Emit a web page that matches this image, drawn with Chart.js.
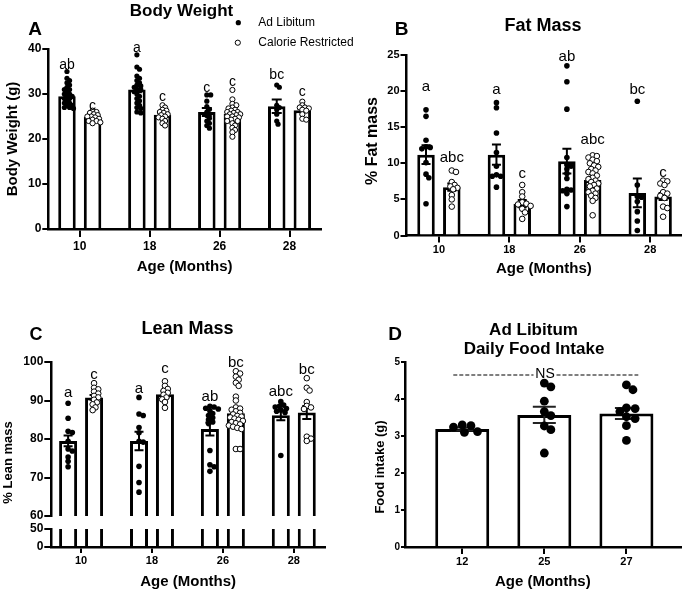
<!DOCTYPE html>
<html lang="en">
<head>
<meta charset="UTF-8">
<title>Body weight, fat, lean mass and food intake</title>
<script src="https://cdn.jsdelivr.net/npm/chart.js"></script>
<style>
  body { margin: 0; background: #fff; overflow: hidden; }
  #wrap { position: relative; width: 685px; height: 593px; }
  canvas { position: absolute; }
</style>
</head>
<body>
<div id="wrap">
  <canvas id="chartA" width="370" height="290" style="left:0;top:0"></canvas>
  <canvas id="chartB" width="345" height="290" style="left:340px;top:0"></canvas>
  <canvas id="chartC" width="340" height="303" style="left:0;top:290px"></canvas>
  <canvas id="chartC0" width="340" height="303" style="left:0;top:290px"></canvas>
  <canvas id="chartD" width="345" height="303" style="left:340px;top:290px"></canvas>
</div>
<script>
Chart.defaults.font.family = '"Liberation Sans", Arial, Helvetica, sans-serif';
Chart.defaults.color = '#000';

// ---------- data ----------
const ages = ['10', '18', '26', '28'];
const agesFood = ['12', '25', '27'];

// A: body weight (g)
const bwAdLib = [
  [35, 33.5, 33, 32.5, 32, 31.5, 31, 31, 30.5, 30, 30, 29.5, 29.5, 29, 29, 28.5, 28, 28, 27.5, 27.5, 27, 27, 26.8],
  [38.7, 36, 35.5, 34, 33.5, 33, 32.5, 32, 31.8, 31.5, 31, 31, 30.5, 30, 29.5, 29, 28.5, 28, 27.5, 27, 26.8, 26, 25.8],
  [29.8, 29.8, 28.4, 27.2, 26.6, 26.0, 25.2, 24.6, 24.0, 23.5, 23.0, 22.4],
  [32, 31.5, 27.5, 27, 26.5, 25.5, 24, 23.3]
];
const bwCalRes = [
  [26.3, 26, 25.8, 25.5, 25.3, 25, 25, 24.8, 24.5, 24.3, 24, 24, 23.7, 23.5],
  [27.5, 27, 26.5, 26.3, 26, 25.8, 25.5, 25.3, 25, 24.8, 24.5, 24, 23.5, 23],
  [30.9, 28.8, 27.8, 27.5, 27, 26.8, 26.5, 26.3, 26, 26, 25.8, 25.5, 25.5, 25.3, 25, 25, 24.8, 24.5, 24.3, 24, 24, 23.5, 23, 22.5, 22, 21.5, 20.5],
  [28.3, 27.5, 27, 27, 26.8, 26.5, 26.3, 25.5, 24.5, 24.3]
];
const bwAdLibMean = [29.5, 31.0, 26.0, 27.3];
const bwAdLibSem = [0.5, 0.6, 0.9, 1.5];
const bwCalResMean = [24.9, 25.4, 25.6, 26.4];
const bwCalResSem = [0.2, 0.3, 0.45, 0.4];
const bwAdLibLetters = ['ab', 'a', 'c', 'bc'];
const bwAdLibLetterY = [36.4, 40.2, 31.3, 34.2];
const bwCalResLetters = ['c', 'c', 'c', 'c'];
const bwCalResLetterY = [27.2, 29.3, 32.6, 30.5];

// B: % fat mass
const fatAdLib = [
  [17.4, 16.5, 13.2, 12.3, 12.2, 12.0, 10.1, 8.5, 8.0, 4.4],
  [18.4, 17.7, 14.2, 11.5, 9.6, 8.4, 8.2, 8.2, 6.7],
  [23.5, 21.3, 17.5, 10.8, 9.8, 9.6, 9.2, 8.6, 7.9, 6.4, 6.3, 6.2, 5.8, 4.0],
  [18.6, 7.0, 5.4, 5.3, 4.7, 3.3, 2.0, 0.7]
];
const fatCalRes = [
  [9.0, 8.8, 7.4, 7.0, 6.8, 6.6, 6.4, 5.6, 5.0, 4.0],
  [7.0, 6.0, 5.4, 4.6, 4.4, 4.3, 4.1, 3.7, 3.2, 2.3],
  [11.1, 11.0, 10.8, 10.5, 10.3, 10.0, 9.7, 9.5, 9.2, 9.0, 8.8, 8.6, 8.3, 8.0, 7.8, 7.6, 7.4, 7.2, 7.0, 6.8, 6.5, 6.2, 6.0, 5.8, 5.5, 5.2, 4.8, 2.8],
  [7.6, 7.5, 7.2, 7.0, 6.0, 5.8, 5.5, 5.2, 4.0, 3.8, 2.6]
];
const fatAdLibMean = [11.2, 11.2, 10.3, 5.9];
const fatAdLibSem = [1.3, 1.4, 1.7, 2.0];
const fatCalResMean = [6.7, 4.4, 7.7, 5.4];
const fatCalResSem = [0.5, 0.5, 0.45, 0.5];
const fatAdLibLetters = ['a', 'a', 'ab', 'bc'];
const fatAdLibLetterY = [20.6, 20.2, 24.8, 20.2];
const fatCalResLetters = ['abc', 'c', 'abc', 'c'];
const fatCalResLetterY = [10.8, 8.5, 13.3, 8.7];

// C: % lean mass
const leanAdLib = [
  [89.3, 85.4, 82.0, 81.7, 79.4, 77.4, 76.9, 75.3, 74.2, 72.8],
  [90.8, 86.5, 86.1, 83.0, 81.6, 79.4, 79.2, 72.9, 68.7, 66.2],
  [88.5, 88.3, 88.0, 87.8, 87.3, 86.6, 86.1, 85.5, 85.0, 84.4, 84.0, 77.0, 73.3, 72.8, 71.6],
  [89.7, 88.8, 88.5, 88.3, 87.9, 87.5, 87.2, 86.9, 75.7]
];
const leanCalRes = [
  [94.5, 93.3, 92.9, 92.3, 91.8, 91.2, 90.8, 90.2, 89.5, 89.0, 88.2, 87.5],
  [95.0, 93.8, 93.0, 92.5, 92.0, 91.5, 90.8, 90.3, 89.6, 88.1],
  [97.6, 97.0, 96.2, 95.4, 94.6, 93.8, 91.0, 90.0, 88.2, 87.9, 87.6, 87.2, 86.8, 86.4, 86.0, 85.8, 85.6, 85.3, 85.0, 84.7, 84.4, 84.1, 83.8, 83.5, 83.2, 82.9, 82.6, 77.4, 77.4],
  [95.8, 93.3, 92.6, 89.6, 88.6, 88.2, 87.8, 80.6, 80.1, 79.5]
];
const leanAdLibMean = [79.5, 79.5, 82.6, 86.2];
const leanAdLibSem = [1.4, 2.4, 1.7, 1.3];
const leanCalResMean = [90.8, 91.6, 86.7, 86.9];
const leanCalResSem = [0.6, 0.8, 0.9, 1.7];
const leanAdLibLetters = ['a', 'a', 'ab', 'abc'];
const leanAdLibLetterY = [91.9, 93.0, 91.0, 92.3];
const leanCalResLetters = ['c', 'c', 'bc', 'bc'];
const leanCalResLetterY = [96.6, 98.2, 99.7, 97.9];

// D: ad libitum daily food intake (g)
const foodIntake = [
  [3.30, 3.28, 3.24, 3.12, 3.10],
  [4.43, 4.33, 3.94, 3.66, 3.55, 3.27, 3.17, 2.54],
  [4.38, 4.25, 3.76, 3.74, 3.66, 3.52, 3.47, 3.28, 2.88]
];
const foodMean = [3.19, 3.57, 3.61];
const foodSem = [0.04, 0.22, 0.15];

// ---------- helpers ----------
// simple beeswarm: horizontal pixel offsets so dots don't pile up
function swarm(vals, yPx, r, tight) {
  const placed = [], offs = [];
  const order = vals.map((v, i) => i).sort((a, b) => vals[b] - vals[a]);
  const d = 2 * r * tight;
  order.forEach(i => {
    const py = vals[i] * yPx;
    for (let k = 0; k < 200; k++) {
      const dx = (k % 2 ? 1 : -1) * Math.ceil(k / 2) * r * 0.5;
      if (placed.every(p => Math.hypot(p.x - dx, p.y - py) >= d)) {
        placed.push({ x: dx, y: py });
        offs[i] = dx;
        return;
      }
    }
    offs[i] = 0;
  });
  return offs;
}

function dots(groups, shift, yPx, xPx, r, tight) {
  const out = [];
  groups.forEach((vals, i) => {
    const offs = swarm(vals, yPx, r, tight);
    vals.forEach((v, j) => out.push({ x: i + shift + offs[j] / xPx, y: v }));
  });
  return out;
}

const errorBars = {
  id: 'errorBars',
  afterDatasetDraw(chart, args) {
    const ds = chart.data.datasets[args.index];
    if (!ds.sem) return;
    const ctx = chart.ctx, y = chart.scales.y;
    ctx.save();
    ctx.strokeStyle = ds.errColor || '#000';
    ctx.lineWidth = ds.errWidth || 2;
    args.meta.data.forEach((bar, i) => {
      const m = ds.data[i].y, s = ds.sem[i];
      const top = y.getPixelForValue(m + s), bot = y.getPixelForValue(m - s);
      const w = ds.capWidth / 2;
      ctx.beginPath();
      ctx.moveTo(bar.x, top); ctx.lineTo(bar.x, bot);
      ctx.moveTo(bar.x - w, top); ctx.lineTo(bar.x + w, top);
      ctx.moveTo(bar.x - w, bot); ctx.lineTo(bar.x + w, bot);
      ctx.stroke();
    });
    ctx.restore();
  }
};

const groupLetters = {
  id: 'groupLetters',
  afterDraw(chart) {
    const ctx = chart.ctx, y = chart.scales.y;
    chart.data.datasets.forEach((ds, di) => {
      if (!ds.letters) return;
      const meta = chart.getDatasetMeta(di);
      ctx.save();
      ctx.font = ds.letterFont;
      ctx.fillStyle = '#000';
      ctx.textAlign = 'center';
      ctx.textBaseline = 'middle';
      meta.data.forEach((bar, i) => ctx.fillText(ds.letters[i], bar.x, y.getPixelForValue(ds.letterY[i])));
      ctx.restore();
    });
  }
};

function panelText(items, extra) {
  return {
    id: 'panelText',
    afterDraw(chart) {
      const ctx = chart.ctx;
      items.forEach(it => {
        ctx.save();
        ctx.font = it.font;
        ctx.fillStyle = '#000';
        ctx.textAlign = it.align || 'center';
        ctx.textBaseline = it.base || 'alphabetic';
        ctx.translate(it.x, it.y);
        if (it.rot) ctx.rotate(it.rot);
        ctx.fillText(it.t, 0, 0);
        ctx.restore();
      });
      if (extra) extra(ctx);
    }
  };
}

function xScale(c) {
  return {
    type: 'linear', min: c.min, max: c.max, display: c.display !== false, offset: false,
    afterBuildTicks: s => { s.ticks = c.labels.map((_, i) => ({ value: i })); },
    afterFit: s => { s.height = c.height; },
    ticks: { callback: (v, i) => c.labels[i], font: { size: c.tickSize, weight: 'bold' },
             padding: c.tickPad, maxRotation: 0, autoSkip: false },
    grid: { offset: false, drawOnChartArea: false, drawTicks: true, tickLength: c.tickLen, color: '#000', lineWidth: 2 },
    border: { color: '#000', width: 2.5 },
    title: { display: !!c.title, text: c.title, font: { size: 15, weight: 'bold' },
             padding: { top: 0, bottom: c.titlePad } }
  };
}

function yScale(c) {
  return {
    min: c.min, max: c.max,
    afterFit: s => { s.width = c.width; },
    ticks: { stepSize: c.step, font: { size: c.tickSize, weight: 'bold' }, padding: 1, autoSkip: false },
    grid: { drawOnChartArea: false, tickLength: c.tickLen, color: '#000', lineWidth: 2 },
    border: { color: '#000', width: 2.5 }
  };
}

function makePanel(id, p) {
  const datasets = [];
  p.series.forEach(s => {
    datasets.push({
      type: 'bar',
      data: s.means.map((m, i) => ({ x: i + s.shift, y: m })),
      backgroundColor: '#fff', borderColor: '#000', borderWidth: 3, borderSkipped: 'start',
      grouped: false, maxBarThickness: p.barWidth, order: 2,
      sem: s.sem, capWidth: p.cap, errWidth: p.errWidth, errColor: p.errColor,
      letters: s.letters, letterY: s.letterY, letterFont: p.letterFont
    });
    if (s.points) {
      datasets.push({
        type: 'scatter',
        data: dots(s.points, s.shift, p.yPx, p.xPx, p.r, p.tight),
        pointRadius: p.r, pointHoverRadius: p.r,
        pointBackgroundColor: s.open ? '#fff' : '#000', pointBorderColor: '#000',
        pointBorderWidth: s.open ? 1 : 0, order: 1, clip: false
      });
    }
  });
  return new Chart(document.getElementById(id), {
    type: 'bar',
    data: { datasets },
    options: {
      responsive: false, animation: false, devicePixelRatio: 1,
      layout: { padding: p.padding },
      plugins: { legend: { display: false }, tooltip: { enabled: false } },
      scales: { x: xScale(p.x), y: yScale(p.y) }
    },
    plugins: [errorBars, groupLetters, panelText(p.texts || [], p.extra)]
  });
}

const SHIFT = 0.183;
const ROT = -Math.PI / 2;

// ---------- A ----------
makePanel('chartA', {
  padding: { left: 0, top: 49, right: 49, bottom: 0 },
  x: { min: -0.45, max: 3.45, labels: ages, height: 61, tickSize: 12, tickLen: 8, tickPad: 2.5, title: 'Age (Months)', titlePad: 14 },
  y: { min: 0, max: 40, step: 10, width: 48.3, tickSize: 12, tickLen: 6 },
  barWidth: 17.5, cap: 10, errWidth: 2, r: 2.6, tight: 0.62, yPx: 4.5, xPx: 69.9, letterFont: '14px "Liberation Sans", Arial',
  series: [
    { shift: -SHIFT, means: bwAdLibMean, sem: bwAdLibSem, points: bwAdLib, letters: bwAdLibLetters, letterY: bwAdLibLetterY },
    { shift: SHIFT, means: bwCalResMean, sem: bwCalResSem, points: bwCalRes, open: true, letters: bwCalResLetters, letterY: bwCalResLetterY }
  ],
  texts: [
    { t: 'Body Weight', x: 181.5, y: 16, font: 'bold 17px "Liberation Sans", Arial' },
    { t: 'A', x: 35, y: 35, font: 'bold 19px "Liberation Sans", Arial' },
    { t: 'Body Weight (g)', x: 12.5, y: 139, rot: ROT, base: 'middle', font: 'bold 15px "Liberation Sans", Arial' },
    { t: 'Ad Libitum', x: 258.3, y: 23, align: 'left', base: 'middle', font: '12px "Liberation Sans", Arial' },
    { t: 'Calorie Restricted', x: 258.3, y: 43, align: 'left', base: 'middle', font: '12px "Liberation Sans", Arial' }
  ],
  extra: ctx => {
    // legend markers
    ctx.save();
    ctx.fillStyle = '#000';
    ctx.beginPath(); ctx.arc(238.3, 22.7, 2.6, 0, Math.PI * 2); ctx.fill();
    ctx.fillStyle = '#fff'; ctx.strokeStyle = '#000'; ctx.lineWidth = 1;
    ctx.beginPath(); ctx.arc(237.8, 42.7, 2.6, 0, Math.PI * 2); ctx.fill(); ctx.stroke();
    ctx.restore();
  }
});

// ---------- B ----------
makePanel('chartB', {
  padding: { left: 0, top: 55, right: 3, bottom: 0 },
  x: { min: -0.46, max: 3.44, labels: ages, height: 54.5, tickSize: 11, tickLen: 7, tickPad: 1, title: 'Age (Months)', titlePad: 12.5 },
  y: { min: 0, max: 25, step: 5, width: 66.5, tickSize: 11, tickLen: 6 },
  barWidth: 17.5, cap: 9, errWidth: 2, r: 2.8, tight: 0.7, yPx: 7.22, xPx: 70.6, letterFont: '15px "Liberation Sans", Arial',
  series: [
    { shift: -SHIFT, means: fatAdLibMean, sem: fatAdLibSem, points: fatAdLib, letters: fatAdLibLetters, letterY: fatAdLibLetterY },
    { shift: SHIFT, means: fatCalResMean, sem: fatCalResSem, points: fatCalRes, open: true, letters: fatCalResLetters, letterY: fatCalResLetterY }
  ],
  texts: [
    { t: 'Fat Mass', x: 203, y: 31, font: 'bold 18px "Liberation Sans", Arial' },
    { t: 'B', x: 61.5, y: 35, font: 'bold 19px "Liberation Sans", Arial' },
    { t: '% Fat mass', x: 32.5, y: 141, rot: ROT, base: 'middle', font: 'bold 16px "Liberation Sans", Arial' }
  ]
});

// ---------- C (broken axis: 60-100 on top, 0-50 below) ----------
makePanel('chartC', {
  padding: { left: 0, top: 72, right: 15, bottom: 77 },
  x: { min: -0.42, max: 3.44, labels: ages, display: false, height: 0, tickSize: 11, tickLen: 6, tickPad: 1 },
  y: { min: 60, max: 100, step: 10, width: 51.3, tickSize: 12, tickLen: 7 },
  barWidth: 18, cap: 9, errWidth: 2, r: 2.8, tight: 0.68, yPx: 3.85, xPx: 70.9, letterFont: '15px "Liberation Sans", Arial',
  series: [
    { shift: -SHIFT, means: leanAdLibMean, sem: leanAdLibSem, points: leanAdLib, letters: leanAdLibLetters, letterY: leanAdLibLetterY },
    { shift: SHIFT, means: leanCalResMean, sem: leanCalResSem, points: leanCalRes, open: true, letters: leanCalResLetters, letterY: leanCalResLetterY }
  ],
  texts: [
    { t: 'Lean Mass', x: 187.5, y: 43.5, font: 'bold 18px "Liberation Sans", Arial' },
    { t: 'C', x: 36, y: 50, font: 'bold 18px "Liberation Sans", Arial' },
    { t: '% Lean mass', x: 8.7, y: 172.5, rot: ROT, base: 'middle', font: 'bold 13px "Liberation Sans", Arial' }
  ]
});
makePanel('chartC0', {
  padding: { left: 0, top: 239, right: 15, bottom: 0 },
  x: { min: -0.42, max: 3.44, labels: ages, height: 46, tickSize: 11, tickLen: 6, tickPad: 1, title: 'Age (Months)', titlePad: 2.3 },
  y: { min: 0, max: 50, step: 50, width: 51.3, tickSize: 12, tickLen: 7 },
  barWidth: 18,
  series: [
    { shift: -SHIFT, means: leanAdLibMean },
    { shift: SHIFT, means: leanCalResMean }
  ]
});

// ---------- D ----------
makePanel('chartD', {
  padding: { left: 0, top: 72, right: 2, bottom: 0 },
  x: { min: -0.697, max: 2.66, labels: agesFood, height: 46, tickSize: 11, tickLen: 7, tickPad: 1, title: 'Age (Months)', titlePad: 2.5 },
  y: { min: 0, max: 5, step: 1, width: 65, tickSize: 10, tickLen: 4 },
  barWidth: 54, cap: 23, errWidth: 2, errColor: '#222', r: 4.4, tight: 0.85, yPx: 37, xPx: 82.8,
  series: [
    { shift: 0, means: foodMean, sem: foodSem, points: foodIntake }
  ],
  texts: [
    { t: 'Ad Libitum', x: 193.5, y: 45, font: 'bold 17px "Liberation Sans", Arial' },
    { t: 'Daily Food Intake', x: 194, y: 63.5, font: 'bold 17px "Liberation Sans", Arial' },
    { t: 'D', x: 55, y: 50, font: 'bold 19px "Liberation Sans", Arial' },
    { t: 'Food intake (g)', x: 40, y: 177, rot: ROT, base: 'middle', font: 'bold 13px "Liberation Sans", Arial' },
    { t: 'NS', x: 205, y: 84.5, base: 'middle', font: '14px "Liberation Sans", Arial' }
  ],
  extra: ctx => {
    ctx.save();
    ctx.strokeStyle = '#000';
    ctx.lineWidth = 1.2;
    ctx.setLineDash([4, 2]);
    ctx.beginPath();
    ctx.moveTo(113.3, 85); ctx.lineTo(193.5, 85);
    ctx.moveTo(216.5, 85); ctx.lineTo(298.3, 85);
    ctx.stroke();
    ctx.restore();
  }
});
</script>
</body>
</html>
